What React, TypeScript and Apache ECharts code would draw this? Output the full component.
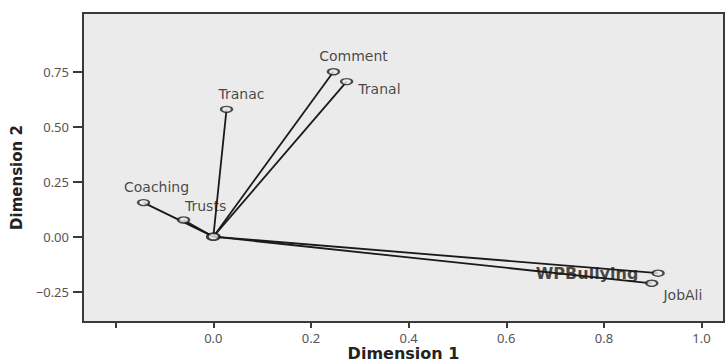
import React, { useEffect, useRef } from "react";
import * as echarts from "echarts";

const names = ["Comment", "Tranal", "Tranac", "Coaching", "Trusts", "WPBullying", "JobAli"];
const dim1 = [0.246, 0.273, 0.027, -0.143, -0.061, 0.911, 0.898];
const dim2 = [0.75, 0.705, 0.579, 0.155, 0.076, -0.166, -0.212];
const xTicks = [-0.2, 0, 0.2, 0.4, 0.6, 0.8, 1.0];
const xTickLabels = [0, 0.2, 0.4, 0.6, 0.8, 1.0];
const yTicks = [-0.25, 0, 0.25, 0.5, 0.75];

const labelStyle: Record<string, any> = {
  Comment: { position: "top", offset: [20, 0] },
  Tranal: { position: "right", offset: [0, 7] },
  Tranac: { position: "top", offset: [15, 0] },
  Coaching: { position: "top", offset: [13, 0] },
  Trusts: { position: "top", offset: [22, 2] },
  WPBullying: { position: "left", offset: [-8, 0], fontWeight: "bold", fontSize: 16 },
  JobAli: { position: "right", offset: [0, 12] },
};

export default function App() {
  const ref = useRef<HTMLDivElement>(null);
  useEffect(() => {
    const chart = echarts.init(ref.current!, null, { renderer: "svg" });
    const lineSeries = names.map((n, i) => ({
      type: "line",
      name: n,
      data: [
        [0, 0],
        [dim1[i], dim2[i]],
      ],
      symbol: "none",
      lineStyle: { color: "#1a1a1a", width: 1.8 },
      silent: true,
      z: 2,
    }));
    const pts = names.map((n, i) => ({
      value: [dim1[i], dim2[i]],
      name: n,
      label: {
        show: true,
        formatter: n,
        distance: 5,
        ...labelStyle[n],
      },
    }));
    chart.setOption({
      animation: false,
      backgroundColor: "#ffffff",
      grid: {
        left: 83,
        right: 1,
        top: 13,
        bottom: 42,
        containLabel: false,
        outerBoundsMode: "none",
        show: true,
        backgroundColor: "#ebebeb",
        borderColor: "#3a3a3a",
        borderWidth: 2,
      },
      xAxis: {
        type: "value",
        min: -0.267,
        max: 1.046,
        splitLine: { show: false },
        axisLine: { show: true, onZero: false, lineStyle: { color: "#3a3a3a", width: 2 } },
        axisTick: { show: true, length: 6, customValues: xTicks, lineStyle: { color: "#3a3a3a", width: 2 } },
        axisLabel: {
          customValues: xTickLabels,
          formatter: (v: number) => v.toFixed(1),
          color: "#555",
          fontSize: 13,
          fontFamily: "Noto Sans",
          margin: 9,
        },
        name: "Dimension 1",
        nameLocation: "middle",
        nameGap: 23,
        nameMoveOverlap: false,
        nameTextStyle: { fontWeight: "bold", fontSize: 16, lineHeight: 16, color: "#222", fontFamily: "DejaVu Sans" },
      },
      yAxis: {
        type: "value",
        min: -0.388,
        max: 1.017,
        splitLine: { show: false },
        axisLine: { show: true, onZero: false, lineStyle: { color: "#3a3a3a", width: 2 } },
        axisTick: { show: true, length: 10, customValues: yTicks, lineStyle: { color: "#3a3a3a", width: 2 } },
        axisLabel: {
          customValues: yTicks,
          formatter: (v: number) => v.toFixed(2).replace("-", "\u2212"),
          color: "#555",
          fontSize: 13,
          fontFamily: "Noto Sans",
          margin: 14,
        },
        name: "Dimension 2",
        nameLocation: "middle",
        nameGap: 58,
        nameTextStyle: {
          fontWeight: "bold",
          fontSize: 15,
          color: "#222",
          fontFamily: "DejaVu Sans",
          padding: [0, 20, 0, 0],
        },
      },
      series: [
        ...lineSeries,
        {
          type: "scatter",
          data: pts,
          symbol: "circle",
          symbolSize: [11, 6],
          itemStyle: { color: "#ebebeb", borderColor: "#222", borderWidth: 1.8 },
          label: { color: "#1a1a1a", fontSize: 14, fontFamily: "DejaVu Sans" },
          z: 3,
        },
        {
          type: "scatter",
          data: [[0, 0]],
          symbol: "circle",
          symbolSize: [12, 7],
          itemStyle: { color: "#ebebeb", borderColor: "#111", borderWidth: 2.2 },
          z: 4,
        },
      ],
    });
    return () => chart.dispose();
  }, []);
  return <div ref={ref} style={{ width: 725, height: 364, position: "absolute", left: 0, top: 0 }} />;
}
